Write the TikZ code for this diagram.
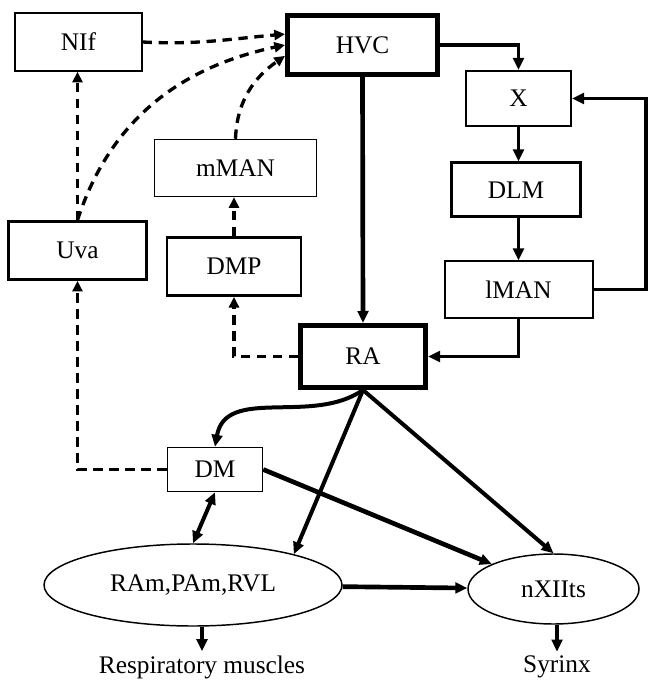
\documentclass[tikz,border=0pt]{standalone}
\usepackage{fontspec}
\setmainfont{Liberation Serif}
\usetikzlibrary{arrows.meta,shapes.geometric}
\begin{document}
\begin{tikzpicture}[x=0.75pt,y=-0.75pt,
nucleus/.style={draw,rectangle,inner sep=0pt,line width=1.1pt,font=\fontsize{19}{23}\selectfont},
oval/.style={draw,ellipse,inner sep=0pt,line width=1.1pt,font=\fontsize{19}{23}\selectfont},
proj/.style={-{Triangle[length=9pt,width=8pt]},line width=2.4pt},
indirect/.style={-{Triangle[length=8pt,width=7.5pt]},line width=2.5pt,dash pattern=on 7pt off 5pt}]
\useasboundingbox (0,0) rectangle (648,680);
\node[nucleus,minimum width=95pt,minimum height=43.5pt] (NIf) at (78.5,42) {NIf};
\node[nucleus,minimum width=112.5pt,minimum height=44.25pt,line width=3.75pt] (HVC) at (362.5,45) {HVC};
\node[nucleus,minimum width=78.75pt,minimum height=41.25pt,line width=1.5pt] (X) at (518.5,98.5) {X};
\node[nucleus,minimum width=96.75pt,minimum height=40.5pt,line width=2.25pt] (DLM) at (516,190) {DLM};
\node[nucleus,minimum width=111pt,minimum height=42pt,line width=1.5pt] (lMAN) at (518.5,289.5) {lMAN};
\node[nucleus,minimum width=121.5pt,minimum height=42.75pt] (mMAN) at (235.5,168) {mMAN};
\node[nucleus,minimum width=103.5pt,minimum height=43.5pt,line width=2pt] (Uva) at (77.5,250.5) {Uva};
\node[nucleus,minimum width=100.5pt,minimum height=43.5pt,line width=2pt] (DMP) at (234,266.5) {DMP};
\node[nucleus,minimum width=93.75pt,minimum height=46.5pt,line width=3.75pt] (RA) at (363,356.5) {RA};
\node[nucleus,minimum width=71.25pt,minimum height=33pt] (DM) at (215,469.5) {DM};
\node[oval,minimum width=223.5pt,minimum height=61.5pt] (RAm) at (193,585) {RAm,PAm,RVL};
\node[oval,minimum width=128.25pt,minimum height=52.5pt] (nXIIts) at (553.5,589) {nXIIts};
\node[font=\fontsize{19}{23}\selectfont,inner sep=3pt] (resp) at (202,667) {Respiratory muscles};
\node[font=\fontsize{19}{23}\selectfont,inner sep=3pt] (syrinx) at (557,667) {Syrinx};
\coordinate (rt) at (646,289.5);
\draw[proj] (HVC.east) -| (X.north);
\draw[proj,line width=3.5pt] (HVC.south) -- (RA.north);
\draw[proj] (X.south) -- (X.south |- DLM.north);
\draw[proj] (X.south |- DLM.south) -- (lMAN.north);
\draw[proj] (lMAN.east) -- (rt) |- (X.east);
\draw[proj] (lMAN.south) |- (RA.east);
\draw[indirect] (RA.west) -| (DMP.south);
\draw[indirect] (DMP.north) -- (DMP.north |- mMAN.south);
\draw[indirect] (mMAN.north) to[out=88,in=215] (HVC.188);
\draw[indirect] (Uva.north) -- (Uva.north |- NIf.south);
\draw[indirect] (Uva.north) to[out=72,in=192] (HVC.west);
\draw[indirect] (NIf.east) to[out=-3,in=185] (HVC.172);
\draw[indirect] (DM.west) -| (Uva.south);
\draw[proj,line width=3pt] (RA.south) to[out=215,in=80] (DM.north);
\draw[proj,line width=3pt] (RA.south) -- (RAm.17);
\draw[proj,line width=3pt] (RA.south) -- (nXIIts.north);
\draw[proj,line width=3.5pt] (DM.east) -- (nXIIts.158);
\draw[proj,line width=3.5pt] (RAm) -- (nXIIts);
\draw[{Triangle[length=9pt,width=8pt]}-{Triangle[length=9pt,width=8pt]},line width=3pt] (DM.south) -- (RAm.north);
\draw[proj] (RAm.south -| resp) -- (resp);
\draw[proj] (nXIIts.south -| syrinx) -- (syrinx);
\end{tikzpicture}
\end{document}
